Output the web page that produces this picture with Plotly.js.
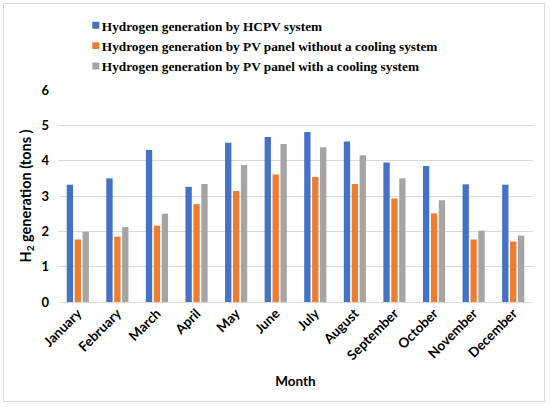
<!DOCTYPE html>
<html>
<head>
<meta charset="utf-8">
<script src="https://cdn.plot.ly/plotly-3.0.1.min.js"></script>
<style>
html,body{margin:0;padding:0;background:#fff;}
#wrap{position:absolute;left:3px;top:3px;width:542px;height:399px;border:1px solid #d9d9d9;box-sizing:border-box;}
#chart{position:absolute;left:0;top:0;width:550px;height:407px;}
</style>
</head>
<body>
<div id="wrap"></div>
<div id="chart"></div>
<script>
const months = ["January","February","March","April","May","June","July","August","September","October","November","December"];
const hcpv = [3.32,3.50,4.30,3.26,4.51,4.67,4.81,4.54,3.95,3.85,3.33,3.32];
const pvNoCooling = [1.77,1.85,2.16,2.77,3.14,3.61,3.54,3.34,2.93,2.51,1.77,1.71];
const pvCooling = [1.99,2.12,2.50,3.34,3.88,4.47,4.38,4.15,3.50,2.88,2.02,1.88];
const seriesNames = ["Hydrogen generation by HCPV system","Hydrogen generation by PV panel without a cooling system","Hydrogen generation by PV panel with a cooling system"];
const colors = ["#4472C4","#ED7D31","#A5A5A5"];
const yTicks = [0,1,2,3,4,5,6];

const data = [hcpv,pvNoCooling,pvCooling].map((v,i)=>({
  type:'bar', x:months, y:v, name:seriesNames[i],
  marker:{color:colors[i], line:{width:0}}
}));

const layout = {
  width:550, height:407,
  margin:{l:58,r:17,t:89,b:105},
  paper_bgcolor:'rgba(0,0,0,0)', plot_bgcolor:'rgba(0,0,0,0)',
  barmode:'group', bargap:0.4, bargroupgap:0.2,
  font:{family:'Lato, sans-serif', color:'#000'},
  showlegend:true,
  legend:{x:0.008, y:1.37, xanchor:'left', yanchor:'top', orientation:'v',
    font:{family:'"Liberation Serif", "Times New Roman", serif', size:13.3, color:'#000', weight:'bold'},
    bgcolor:'rgba(0,0,0,0)', itemwidth:30, tracegroupgap:0},
  xaxis:{
    tickangle:-45, tickfont:{size:13.5, weight:'bold', family:'Lato, sans-serif'},
    showgrid:false, showline:false, ticks:'',
    title:{text:'<b>Month</b>', font:{size:13.5, family:'Lato, sans-serif'}, standoff:14},
    automargin:false
  },
  yaxis:{
    range:[0,6], tickvals:yTicks, ticktext:yTicks.map(String),
    tickfont:{size:13, weight:'bold', family:'Lato, sans-serif'},
    showgrid:true, gridcolor:'#D9D9D9', gridwidth:1,
    zeroline:true, zerolinecolor:'#D9D9D9', zerolinewidth:1,
    showline:false, ticks:'', ticklabelstandoff:8,
    title:{text:'<b>H<sub>2</sub> generation (tons )</b>', font:{size:14.5, family:'Lato, sans-serif'}, standoff:6},
    automargin:false
  }
};
Plotly.newPlot('chart', data, layout, {displayModeBar:false, staticPlot:true}).then(gd=>{
  gd.querySelectorAll('.legend .legendpoints path').forEach(p=>{
    p.setAttribute('transform','translate(34,0) scale(0.58)');
  });
});
</script>
</body>
</html>
